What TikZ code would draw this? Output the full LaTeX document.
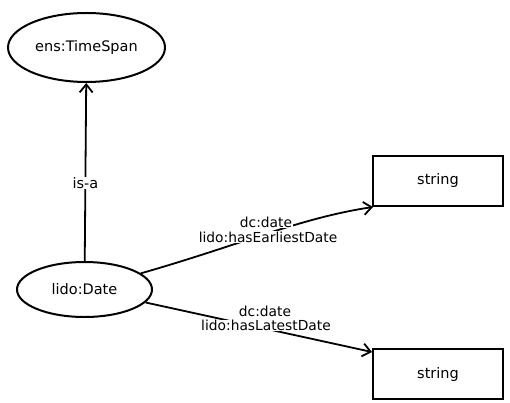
\documentclass[tikz,border=0pt]{standalone}
\usepackage{fontspec}
\setmainfont{DejaVu Sans}
\usetikzlibrary{arrows.meta,shapes.geometric}
\begin{document}
\begin{tikzpicture}[x=1pt,y=-1pt,
  every node/.style={font=\fontsize{14.5}{17}\selectfont},
  cls/.style={draw,line width=2pt,ellipse,inner sep=0pt},
  lit/.style={draw,line width=2.4pt,rectangle,inner sep=0pt,minimum width=130pt,minimum height=50pt},
  edge/.style={line width=1.8pt,-{Straight Barb[length=8pt,width=13pt,line width=1.8pt]}},
  lbl/.style={fill=white,inner sep=0.5pt,font=\fontsize{13.8}{16}\selectfont}]
\useasboundingbox (0,0) rectangle (510,403);
\node[cls,minimum width=157pt,minimum height=69pt] (ts) at (86.5,47.5) {ens:TimeSpan};
\node[cls,minimum width=135pt,minimum height=55pt] (dt) at (84.5,289.5) {lido:Date};
\node[lit] (s1) at (438,181) {string};
\node[lit] (s2) at (438,374) {string};
\coordinate (t1) at (373,207);
\coordinate (t2) at (372,352);
\draw[edge] (dt) -- (ts) node[lbl,pos=0.44,font=\fontsize{14.5}{17}\selectfont] {is-a};
\draw[edge] (dt.16) .. controls (240,245) and (300,218) .. (t1);
\draw[edge] (dt.-12) -- (t2);
\node[lbl] (l1a) at (266,222.5) {dc:date};
\node[lbl] (l1b) at (268,237) {lido:hasEarliestDate};
\node[lbl] (l2a) at (265,311) {dc:date};
\node[lbl] (l2b) at (266,325.5) {lido:hasLatestDate};
\end{tikzpicture}
\end{document}
